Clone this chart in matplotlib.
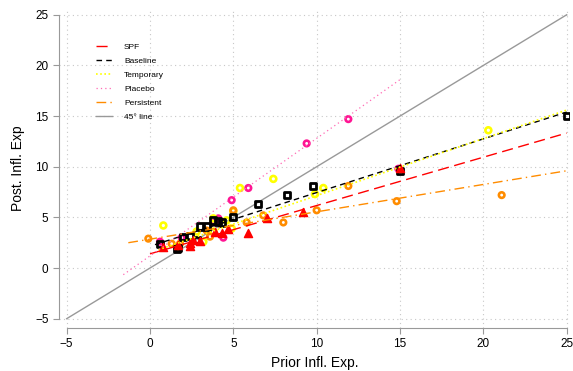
import matplotlib
matplotlib.use("Agg")
import matplotlib.pyplot as plt
import numpy as np

plt.rcParams['font.family'] = ['Liberation Sans', 'DejaVu Sans']

# Data
baseline_x = [0.6, 1.6, 1.7, 2.0, 2.4, 2.8, 3.0, 3.4, 3.8, 4.1, 4.3, 5.0, 6.5, 8.2, 9.8, 15.0, 25.0]
baseline_y = [2.4, 1.9, 2.0, 3.1, 3.2, 2.8, 4.1, 4.1, 4.7, 4.6, 4.5, 5.0, 6.3, 7.2, 8.1, 9.6, 15.0]

spf_x = [0.8, 1.7, 2.4, 2.4, 2.6, 3.0, 3.9, 4.3, 4.7, 5.9, 7.0, 9.2, 15.0]
spf_y = [2.1, 2.3, 2.5, 2.2, 2.8, 2.7, 3.6, 3.5, 3.9, 3.5, 4.9, 5.5, 9.9]

temp_x = [0.8, 1.7, 2.8, 3.2, 3.8, 3.8, 4.6, 4.9, 5.0, 5.4, 7.4, 9.9, 10.4, 20.3]
temp_y = [4.2, 2.1, 3.6, 2.6, 3.6, 4.9, 4.7, 3.9, 5.6, 7.9, 8.8, 7.3, 7.9, 13.6]

placebo_x = [0.6, 1.9, 3.9, 4.1, 4.4, 4.9, 5.9, 9.4, 11.9, 14.9]
placebo_y = [2.6, 3.0, 4.5, 4.9, 3.0, 6.7, 7.9, 12.3, 14.7, 9.8]

pers_x = [-0.1, 1.3, 1.8, 3.4, 3.6, 5.0, 5.8, 6.8, 8.0, 10.0, 11.9, 14.8, 21.1]
pers_y = [2.9, 2.4, 2.4, 3.7, 3.1, 5.7, 4.5, 5.2, 4.5, 5.7, 8.1, 6.6, 7.2]

# fitted lines: (x_start, x_end, intercept, slope)
spf_fit = (0.0, 25.0, 1.40, 0.477)
baseline_fit = (0.3, 25.0, 2.15, 0.53)
temp_fit = (0.5, 25.0, 1.52, 0.563)
placebo_fit = (-1.6, 15.0, 1.20, 1.16)
pers_fit = (-1.3, 25.0, 2.85, 0.27)

ticks = [-5, 0, 5, 10, 15, 20, 25]

fig = plt.figure(figsize=(5.73, 3.71), dpi=100)
ax = fig.add_axes([59/573, 1-328/371, (570-59)/573, (328-8.7)/371])
ax.set_xlim(-5.46, 25.2)
ax.set_ylim(-5.92, 25.6)

for t in ticks:
    ax.axhline(t, color='#c8c8c8', lw=0.8, ls=(0, (1, 3)), zorder=0)
    ax.axvline(t, color='#c8c8c8', lw=0.8, ls=(0, (1, 3)), zorder=0)

orange = '#ff8c00'
pink = '#ff1493'

ax.scatter(placebo_x, placebo_y, s=16, facecolors='none', edgecolors=pink, linewidths=1.9, zorder=3)
ax.scatter(temp_x, temp_y, s=18, facecolors='none', edgecolors='yellow', linewidths=1.9, zorder=3)
ax.scatter(pers_x, pers_y, s=16, facecolors='none', edgecolors=orange, linewidths=1.9, zorder=3)
ax.scatter(baseline_x, baseline_y, s=20, marker='s', facecolors='none', edgecolors='black', linewidths=2.0, zorder=4)
ax.scatter(spf_x, spf_y, s=34, marker='^', color='red', zorder=4)

def fitline(fit):
    x0, x1, a, b = fit
    xs = np.array([x0, x1])
    return xs, a + b * xs

xs, ys = fitline(spf_fit)
ax.plot(xs, ys, color='red', lw=1.0, ls=(0, (8, 4)), label='SPF', zorder=5)
xs, ys = fitline(baseline_fit)
ax.plot(xs, ys, color='black', lw=1.0, ls=(0, (4, 3)), label='Baseline', zorder=5)
xs, ys = fitline(temp_fit)
ax.plot(xs, ys, color='yellow', lw=1.2, ls=(0, (1, 1.5)), label='Temporary', zorder=5)
xs, ys = fitline(placebo_fit)
ax.plot(xs, ys, color='#ff69b4', lw=0.9, ls=(0, (1, 2.5)), label='Placebo', zorder=5)
xs, ys = fitline(pers_fit)
ax.plot(xs, ys, color=orange, lw=1.0, ls=(0, (7, 3, 1, 3)), label='Persistent', zorder=5)
ax.plot([-5, 25], [-5, 25], color='#999999', lw=1.0, label='45° line', zorder=2)

for s in ['top', 'right']:
    ax.spines[s].set_visible(False)
for s in ['left', 'bottom']:
    ax.spines[s].set_color('#999999')
    ax.spines[s].set_bounds(-5, 25)
ax.set_xticks(ticks)
ax.set_yticks(ticks)
ax.set_xticklabels([str(t).replace('-', '\u2212') for t in ticks])
ax.set_yticklabels([str(t).replace('-', '\u2212') for t in ticks])
ax.tick_params(colors='#999999', labelcolor='black', labelsize=8.5, length=4)
ax.set_xlabel('Prior Infl. Exp.', fontsize=10, labelpad=4)
ax.set_ylabel('Post. Infl. Exp', fontsize=10, labelpad=7)

leg = ax.legend(loc='upper left', bbox_to_anchor=(0.0724, 0.893), frameon=False, fontsize=6,
                handlelength=1.9, labelspacing=0.75, handletextpad=1.45,
                borderpad=0, borderaxespad=0)

fig.savefig('out.png', dpi=100)
